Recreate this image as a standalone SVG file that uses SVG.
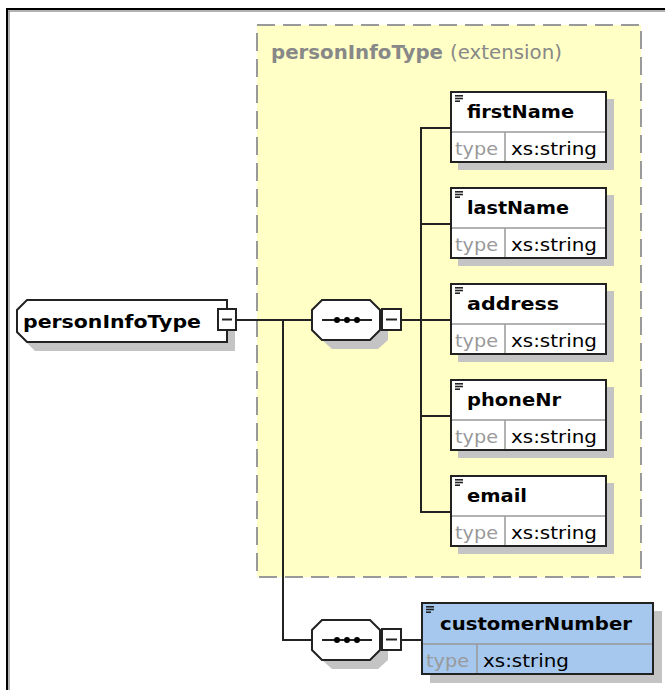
<svg xmlns="http://www.w3.org/2000/svg" width="665" height="690" viewBox="0 0 665 690">
<style>
.nm{font-family:"DejaVu Sans","Liberation Sans",sans-serif;font-weight:bold;font-size:18px;fill:#000}
.ty{font-family:"DejaVu Sans","Liberation Sans",sans-serif;font-size:17px;fill:#999}
.tv{font-family:"DejaVu Sans","Liberation Sans",sans-serif;font-size:17px;fill:#000}
.tt{font-family:"DejaVu Sans","Liberation Sans",sans-serif;font-size:19px;fill:#888}
.box{fill:#fff;stroke:#222;stroke-width:2}
.sh{fill:#c4c4c4}
.div{stroke:#999;stroke-width:1.5}
.con{stroke:#222;stroke-width:2;fill:none}
.mb{fill:#fff;stroke:#222;stroke-width:2}
.ic{stroke:#222;stroke-width:1.6}
</style>
<defs>
<g id="icon"><line class="ic" x1="0" y1="0.8" x2="8" y2="0.8"/><line class="ic" x1="0" y1="3.5" x2="8" y2="3.5"/><line class="ic" x1="0" y1="6.2" x2="5" y2="6.2"/></g>
<g id="seq">
<polygon class="sh" points="20,8 66,8 76,18 76,40 66,49 20,49 10,40 10,18"/>
<polygon fill="#fff" stroke="#222" stroke-width="2" points="10,0 58,0 68,10 68,30 58,40 10,40 0,30 0,10"/>
<line x1="10" y1="20" x2="60" y2="20" stroke="#222" stroke-width="2"/>
<circle cx="25" cy="20" r="3" fill="#000"/><circle cx="35" cy="20" r="3" fill="#000"/><circle cx="45" cy="20" r="3" fill="#000"/>
</g>
</defs>
<rect width="665" height="690" fill="#fff"/>
<line x1="6" y1="9" x2="665" y2="9" stroke="#000" stroke-width="2"/>
<line x1="8" y1="11" x2="665" y2="11" stroke="#999" stroke-width="1.5"/>
<line x1="7" y1="8" x2="7" y2="690" stroke="#000" stroke-width="2"/>
<line x1="9" y1="11" x2="9" y2="690" stroke="#999" stroke-width="1.5"/>

<g id="extension">
<rect x="257" y="25" width="384" height="552" fill="#ffffc6" stroke="#999" stroke-width="2" stroke-dasharray="18,8"/>
<text class="tt" x="271" y="59" font-weight="bold" textLength="172" lengthAdjust="spacingAndGlyphs">personInfoType</text>
<text class="tt" x="450" y="59" textLength="112" lengthAdjust="spacingAndGlyphs">(extension)</text>
</g>

<g id="connectors">
<polyline class="con" points="237,320 312,320"/>
<polyline class="con" points="283,320 283,640 312,640"/>
<line class="con" x1="401" y1="320" x2="421" y2="320"/>
<line class="con" x1="421" y1="127" x2="421" y2="513"/>
<line class="con" x1="421" y1="128" x2="451" y2="128"/>
<line class="con" x1="421" y1="224" x2="451" y2="224"/>
<line class="con" x1="421" y1="320" x2="451" y2="320"/>
<line class="con" x1="421" y1="416" x2="451" y2="416"/>
<line class="con" x1="421" y1="512" x2="451" y2="512"/>
<line class="con" x1="401" y1="640" x2="422" y2="640"/>
</g>

<g id="root">
<polygon class="sh" points="35,308 235,308 235,351 35,351 25,341 25,318"/>
<polygon class="box" points="27,300 227,300 227,342 27,342 17,332 17,310"/>
<text class="nm" x="23" y="328" textLength="178" lengthAdjust="spacingAndGlyphs">personInfoType</text>
<rect class="mb" x="218" y="309" width="18" height="21"/>
<line x1="222" y1="319.5" x2="232" y2="319.5" stroke="#222" stroke-width="2"/>
</g>

<g id="seq1">
<use href="#seq" x="312" y="300"/>
<rect class="mb" x="382" y="309" width="19" height="21"/>
<line x1="386" y1="319.5" x2="397" y2="319.5" stroke="#222" stroke-width="2"/>
</g>

<g id="seq2">
<use href="#seq" x="312" y="620"/>
<rect class="mb" x="382" y="629" width="19" height="21"/>
<line x1="386" y1="639.5" x2="397" y2="639.5" stroke="#222" stroke-width="2"/>
</g>

<g id="firstName">
<rect class="sh" x="458" y="99" width="156" height="71"/>
<rect class="box" x="451" y="92" width="155" height="70"/>
<line class="div" x1="452" y1="132" x2="605" y2="132"/>
<line class="div" x1="505" y1="132" x2="505" y2="161"/>
<use href="#icon" x="455" y="95"/>
<text class="nm" x="467" y="118" textLength="107" lengthAdjust="spacingAndGlyphs">firstName</text>
<text class="ty" x="455" y="155" textLength="43" lengthAdjust="spacingAndGlyphs">type</text>
<text class="tv" x="511" y="155" textLength="86" lengthAdjust="spacingAndGlyphs">xs:string</text>
</g>

<g id="lastName">
<rect class="sh" x="458" y="195" width="156" height="71"/>
<rect class="box" x="451" y="188" width="155" height="70"/>
<line class="div" x1="452" y1="228" x2="605" y2="228"/>
<line class="div" x1="505" y1="228" x2="505" y2="257"/>
<use href="#icon" x="455" y="191"/>
<text class="nm" x="467" y="214" textLength="102" lengthAdjust="spacingAndGlyphs">lastName</text>
<text class="ty" x="455" y="251" textLength="43" lengthAdjust="spacingAndGlyphs">type</text>
<text class="tv" x="511" y="251" textLength="86" lengthAdjust="spacingAndGlyphs">xs:string</text>
</g>

<g id="address">
<rect class="sh" x="458" y="291" width="156" height="71"/>
<rect class="box" x="451" y="284" width="155" height="70"/>
<line class="div" x1="452" y1="324" x2="605" y2="324"/>
<line class="div" x1="505" y1="324" x2="505" y2="353"/>
<use href="#icon" x="455" y="287"/>
<text class="nm" x="467" y="310" textLength="92" lengthAdjust="spacingAndGlyphs">address</text>
<text class="ty" x="455" y="347" textLength="43" lengthAdjust="spacingAndGlyphs">type</text>
<text class="tv" x="511" y="347" textLength="86" lengthAdjust="spacingAndGlyphs">xs:string</text>
</g>

<g id="phoneNr">
<rect class="sh" x="458" y="387" width="156" height="71"/>
<rect class="box" x="451" y="380" width="155" height="70"/>
<line class="div" x1="452" y1="420" x2="605" y2="420"/>
<line class="div" x1="505" y1="420" x2="505" y2="449"/>
<use href="#icon" x="455" y="383"/>
<text class="nm" x="467" y="406" textLength="94" lengthAdjust="spacingAndGlyphs">phoneNr</text>
<text class="ty" x="455" y="443" textLength="43" lengthAdjust="spacingAndGlyphs">type</text>
<text class="tv" x="511" y="443" textLength="86" lengthAdjust="spacingAndGlyphs">xs:string</text>
</g>

<g id="email">
<rect class="sh" x="458" y="483" width="156" height="71"/>
<rect class="box" x="451" y="476" width="155" height="70"/>
<line class="div" x1="452" y1="516" x2="605" y2="516"/>
<line class="div" x1="505" y1="516" x2="505" y2="545"/>
<use href="#icon" x="455" y="479"/>
<text class="nm" x="467" y="502" textLength="60" lengthAdjust="spacingAndGlyphs">email</text>
<text class="ty" x="455" y="539" textLength="43" lengthAdjust="spacingAndGlyphs">type</text>
<text class="tv" x="511" y="539" textLength="86" lengthAdjust="spacingAndGlyphs">xs:string</text>
</g>

<g id="customerNumber">
<rect class="sh" x="430" y="611" width="232" height="72"/>
<rect x="422" y="603" width="231" height="71" fill="#a6c8ee" stroke="#222" stroke-width="2"/>
<line class="div" x1="423" y1="644" x2="652" y2="644"/>
<line class="div" x1="477" y1="644" x2="477" y2="673"/>
<use href="#icon" x="426" y="606"/>
<text class="nm" x="440" y="630" textLength="192" lengthAdjust="spacingAndGlyphs">customerNumber</text>
<text class="ty" x="426" y="667" textLength="43" lengthAdjust="spacingAndGlyphs">type</text>
<text class="tv" x="483" y="667" textLength="86" lengthAdjust="spacingAndGlyphs">xs:string</text>
</g>
</svg>
